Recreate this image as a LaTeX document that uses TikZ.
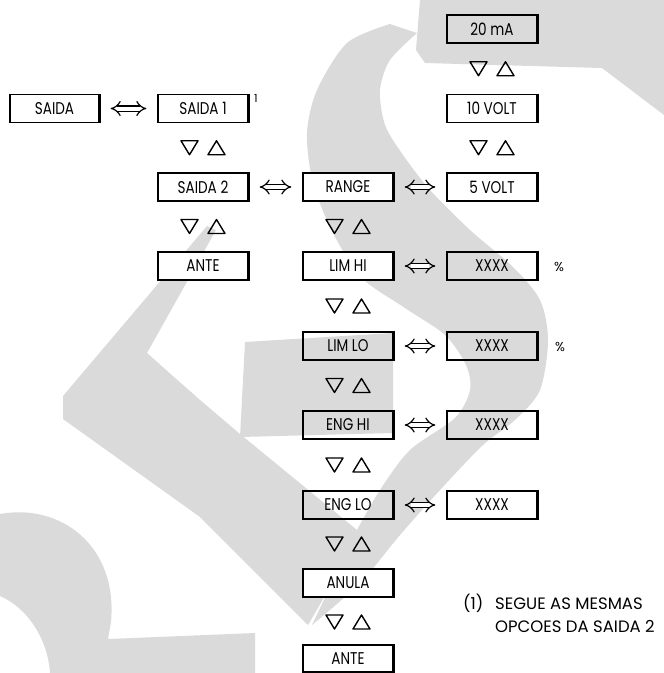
\documentclass[tikz,border=0pt]{standalone}
\usepackage{fontspec}
\setmainfont{Poppins}
\newfontfamily\lblfont[FakeStretch=0.8]{Poppins}
\usetikzlibrary{arrows.meta,calc}
\definecolor{wm}{RGB}{218,218,218}
\tikzset{
  box/.style={draw, line width=1.3pt, minimum width=90pt, minimum height=28pt, inner sep=0pt,
    font=\lblfont\fontsize{17}{18}\selectfont},
  wbox/.style={box, fill=white},
  lnk/.style={double, double distance=4pt, line width=1.2pt, {Implies[scale=1.25]}-{Implies[scale=1.25]},
    shorten <=11pt, shorten >=11pt},
  tri/.style={line width=1.4pt, line join=round},
  updown/.pic={\draw[tri] (-22,-7) -- (-5,-7) -- (-13.5,7) -- cycle;
               \draw[tri] (5,7) -- (22,7) -- (13.5,-7) -- cycle;},
  wmark/.style={fill=wm, draw=none},
  note/.style={anchor=base west, inner sep=0pt, font=\fontsize{16.5}{17}\selectfont}
}
\begin{document}
\begin{tikzpicture}[x=1pt,y=-1pt]
\useasboundingbox (0,0) rectangle (664,673);
% watermark
\fill[wmark] (420,0) -- (664,0) -- (664,115) -- (602,68) -- (425,63) -- (416,50) -- cycle;
\fill[wmark] plot[smooth] coordinates {(390,24) (347,43) (317,90) (307,133) (313,183) (333,233) (362,278) (405,308) (445,335) (466,365) (470,390) (455,418) (410,450) (380,490) (357,530)}
  -- (312,625)
  -- plot[smooth] coordinates {(312,625) (360,583) (400,535) (440,490) (483,445) (515,420) (540,390) (548,340) (540,300) (513,267) (470,230) (430,190) (403,155) (385,125) (380,90) (390,60) (417,33)}
  -- cycle;
\fill[wmark] (207,226) -- (216,230) -- (147,353) -- (200,400) -- (240,434) -- (357,530) -- (340,570) -- (308,625) -- (200,517) -- (63,419) -- (63,396) -- cycle;
\fill[wmark] (245,342) -- (393,333) -- (393,433) -- (240,437) -- cycle;
\fill[wmark] (0,514) .. controls (60,503) and (118,545) .. (111,622) -- (108,639) -- (255,633) -- (255,673) -- (50,673) .. controls (48,640) and (28,608) .. (0,596) -- cycle;
% boxes
\node[wbox, minimum width=89pt] (saida) at (54.5,108.5) {SAIDA};
\node[wbox] (s1) at (203,108.5) {SAIDA 1};
\node[wbox] (s2) at (203,187) {SAIDA 2};
\node[wbox] (ante1) at (203,266) {ANTE};
\node[box] (ma) at (492,29) {20 mA};
\node[wbox] (v10) at (492,108.5) {10 VOLT};
\node[wbox] (v5) at (492,187) {5 VOLT};
\node[wbox] (range) at (348,187) {RANGE};
\node[wbox] (limhi) at (348,266) {LIM HI};
\node[box] (x1) at (492,266) {XXXX};
\node[box] (limlo) at (348,346) {LIM LO};
\node[box] (x2) at (492,346) {XXXX};
\node[box] (enghi) at (348,425) {ENG HI};
\node[box] (x3) at (492,425) {XXXX};
\node[box] (englo) at (348,505) {ENG LO};
\node[box] (x4) at (492,505) {XXXX};
\node[wbox] (anula) at (348,583) {ANULA};
\node[wbox, minimum height=27pt] (ante2) at (348,658.5) {ANTE};
\foreach \n in {saida,s1,s2,ante1,ma,v10,v5,range,limhi,x1,limlo,x2,enghi,x3,englo,x4,anula,ante2}
  \draw[line width=2.3pt] (\n.north east) -- (\n.south east);
% side marks
\node[font=\fontsize{11}{11}\selectfont] (sup) at (256,99) {1};
\node[font=\fontsize{13}{13}\selectfont] (p1) at (559,267) {\%};
\node[font=\fontsize{13}{13}\selectfont] (p2) at (560,347) {\%};
% horizontal links
\draw[lnk] (saida) -- (s1);
\draw[lnk] (s2) -- (range);
\draw[lnk] (range) -- (v5);
\draw[lnk] (limhi) -- (x1);
\draw[lnk] (limlo) -- (x2);
\draw[lnk] (enghi) -- (x3);
\draw[lnk] (englo) -- (x4);
% up/down keys
\path ($(ma)!.5!(v10)$) pic {updown};
\path ($(v10)!.5!(v5)$) pic {updown};
\path ($(s1)!.5!(s2)$) pic {updown};
\path ($(s2)!.5!(ante1)$) pic {updown};
\path ($(range)!.5!(limhi)$) pic {updown};
\path ($(limhi)!.5!(limlo)$) pic {updown};
\path ($(limlo)!.5!(enghi)$) pic {updown};
\path ($(enghi)!.5!(englo)$) pic {updown};
\path ($(englo)!.5!(anula)$) pic {updown};
\path (348,622) pic {updown};
% note
\node[note] (n0) at (463,609) {(1)};
\node[note] (n1) at (495,609) {SEGUE AS MESMAS};
\node[note] (n2) at (495,632) {OPCOES DA SAIDA 2};
\end{tikzpicture}
\end{document}
